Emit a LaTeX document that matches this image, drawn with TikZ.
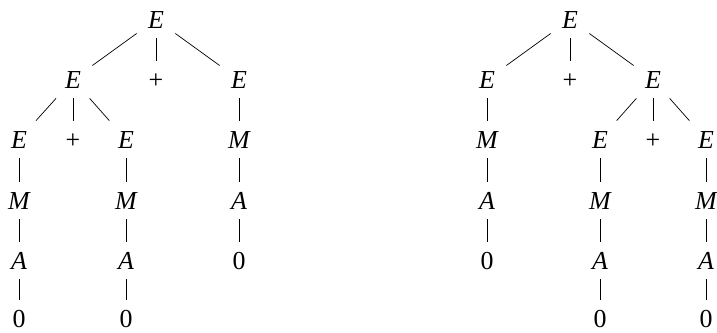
\documentclass[tikz,border=0pt]{standalone}
\usepackage{fontspec}
\setmainfont{Liberation Serif}
\begin{document}
\begin{tikzpicture}[x=1bp,y=-1bp,
  sym/.style={anchor=base,font=\fontsize{26}{30}\selectfont\itshape,
    text height=17bp,text depth=0bp,inner xsep=2bp,inner ysep=10bp,minimum width=38bp},
  trm/.style={sym,font=\fontsize{26}{30}\selectfont\upshape},
  leaf/.style={trm,text depth=-10bp},
  every path/.style={line width=0.7bp}]
\useasboundingbox (0,0) rectangle (717,332);
% left tree
\node[sym] (r) at (156,28) {E};
\node[sym] (a) at (73,88) {E};
\node[trm] (p) at (156,88) {+};
\node[sym] (b) at (239,88) {E};
\node[sym] (c) at (19,148) {E};
\node[trm] (d) at (73,148) {+};
\node[sym] (e) at (126,148) {E};
\node[sym] (f) at (239,148) {M};
\node[sym] (g) at (19,209) {M};
\node[sym] (h) at (126,209) {M};
\node[sym] (i) at (239,209) {A};
\node[sym] (j) at (19,269) {A};
\node[sym] (k) at (126,269) {A};
\node[trm] (l) at (239,269) {0};
\node[leaf] (m) at (19,327.5) {0};
\node[leaf] (n) at (126,327.5) {0};
\draw (r) -- (a); \draw (r) -- (p); \draw (r) -- (b);
\draw (a) -- (c); \draw (a) -- (d); \draw (a) -- (e);
\draw (b) -- (f); \draw (c) -- (g); \draw (e) -- (h); \draw (f) -- (i);
\draw (g) -- (j); \draw (h) -- (k); \draw (i) -- (l);
\draw (j) -- (m); \draw (k) -- (n);
% right tree
\node[sym] (R) at (570,28) {E};
\node[sym] (A) at (487,88) {E};
\node[trm] (P) at (570,88) {+};
\node[sym] (B) at (653,88) {E};
\node[sym] (F) at (487,148) {M};
\node[sym] (C) at (600,148) {E};
\node[trm] (D) at (653,148) {+};
\node[sym] (E) at (706,148) {E};
\node[sym] (I) at (487,209) {A};
\node[sym] (G) at (600,209) {M};
\node[sym] (H) at (706,209) {M};
\node[trm] (L) at (487,269) {0};
\node[sym] (J) at (600,269) {A};
\node[sym] (K) at (706,269) {A};
\node[leaf] (M) at (600,327.5) {0};
\node[leaf] (N) at (706,327.5) {0};
\draw (R) -- (A); \draw (R) -- (P); \draw (R) -- (B);
\draw (A) -- (F); \draw (F) -- (I); \draw (I) -- (L);
\draw (B) -- (C); \draw (B) -- (D); \draw (B) -- (E);
\draw (C) -- (G); \draw (E) -- (H);
\draw (G) -- (J); \draw (H) -- (K);
\draw (J) -- (M); \draw (K) -- (N);
\end{tikzpicture}
\end{document}
